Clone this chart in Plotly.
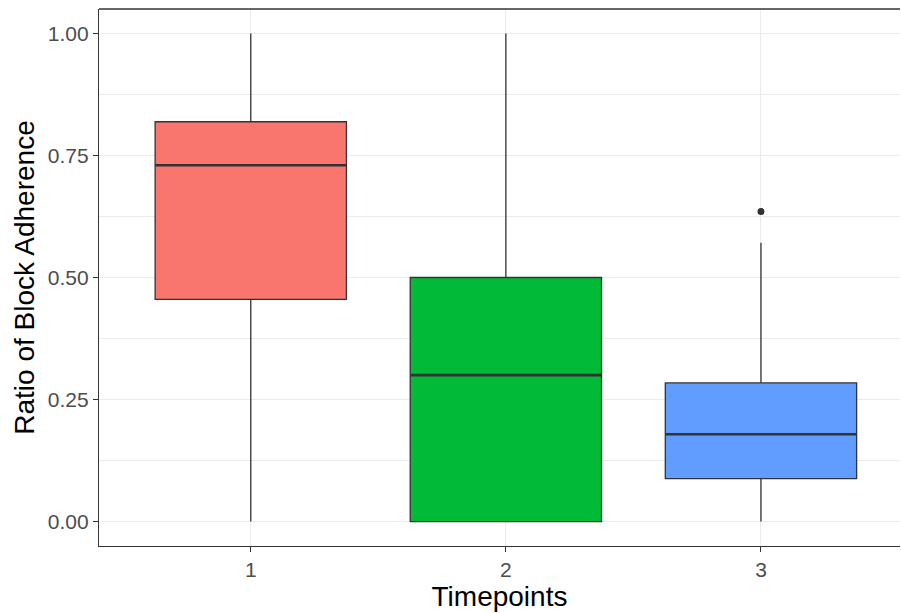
import plotly.graph_objects as go

# Summary statistics per timepoint
timepoints = [1, 2, 3]
tick_labels = ["1", "2", "3"]
q1 = [0.455, 0.0, 0.088]
medians = [0.730, 0.300, 0.179]
q3 = [0.819, 0.500, 0.284]
lower_whisker = [0.0, 0.0, 0.0]
upper_whisker = [1.0, 1.0, 0.571]
fill_colors = ["#F8766D", "#00BA38", "#619CFF"]

# Outlying observations
outlier_x = [3]
outlier_y = [0.635]

BOX_WIDTH = 0.75
EDGE = "#333333"
GRID = "#EBEBEB"
FONT = "Liberation Sans, Arial, sans-serif"

fig = go.Figure()

for i, tp in enumerate(timepoints):
    fig.add_trace(go.Box(
        x=[tp],
        q1=[q1[i]], median=[medians[i]], q3=[q3[i]],
        lowerfence=[lower_whisker[i]], upperfence=[upper_whisker[i]],
        width=BOX_WIDTH,
        fillcolor=fill_colors[i],
        line=dict(color=EDGE, width=1.3),
        whiskerwidth=0,
        boxpoints=False,
        showlegend=False,
        hoverinfo="skip",
    ))
    # thicker median bar, as in ggplot boxplots
    fig.add_trace(go.Scatter(
        x=[tp - BOX_WIDTH / 2, tp + BOX_WIDTH / 2],
        y=[medians[i], medians[i]],
        mode="lines",
        line=dict(color=EDGE, width=2.6),
        showlegend=False,
        hoverinfo="skip",
    ))

fig.add_trace(go.Scatter(
    x=outlier_x, y=outlier_y, mode="markers",
    marker=dict(color=EDGE, size=7),
    showlegend=False, hoverinfo="skip",
))

fig.update_layout(
    width=901, height=613,
    margin=dict(l=99, r=1, t=9, b=67),
    paper_bgcolor="white", plot_bgcolor="white",
    font=dict(family=FONT),
)

fig.update_xaxes(
    range=[0.405, 3.545],
    tickvals=timepoints, ticktext=tick_labels,
    showgrid=True, gridcolor=GRID, gridwidth=1,
    zeroline=False,
    showline=True, linecolor=EDGE, linewidth=1.3,
    ticks="outside", ticklen=5, tickcolor=EDGE, tickwidth=1,
    tickfont=dict(size=21, color="#4D4D4D", family=FONT),
    ticklabelstandoff=0,
    title=dict(text="Timepoints", font=dict(size=28, color="black", family=FONT), standoff=2),
)

fig.update_yaxes(
    range=[-0.05, 1.05],
    tickvals=[0, 0.25, 0.5, 0.75, 1.0],
    tickformat=".2f",
    showgrid=True, gridcolor=GRID, gridwidth=1,
    minor=dict(tickvals=[0.125, 0.375, 0.625, 0.875], showgrid=True,
               gridcolor=GRID, gridwidth=0.6, ticks=""),
    zeroline=False,
    showline=True, linecolor=EDGE, linewidth=1.3,
    ticks="outside", ticklen=5, tickcolor=EDGE, tickwidth=1,
    tickfont=dict(size=21, color="#4D4D4D", family=FONT),
    title=dict(text="Ratio of Block Adherence", font=dict(size=28, color="black", family=FONT), standoff=4),
)

# top panel border
fig.add_shape(type="line", xref="paper", yref="paper", x0=0, x1=1, y0=1, y1=1,
              line=dict(color=EDGE, width=1.3))

fig.write_html("out.html")
